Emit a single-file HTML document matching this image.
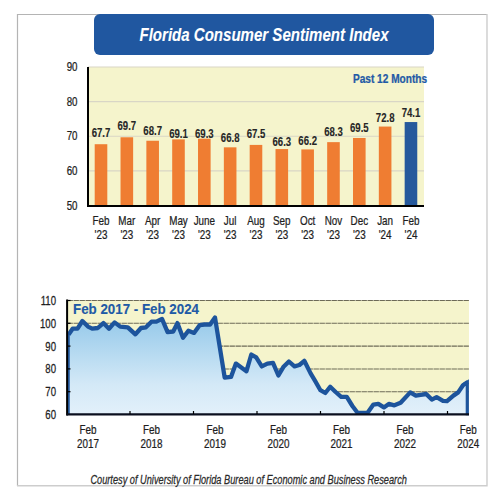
<!DOCTYPE html><html><head><meta charset="utf-8"><style>html,body{margin:0;padding:0;background:#fff;width:500px;height:500px;overflow:hidden}svg{display:block}text{font-family:"Liberation Sans",sans-serif}</style></head><body>
<svg width="500" height="500" viewBox="0 0 500 500">
<defs><linearGradient id="gf" gradientUnits="userSpaceOnUse" x1="0" y1="310" x2="0" y2="414"><stop offset="0" stop-color="#8dc5e8"/><stop offset="0.72" stop-color="#d4e9f7"/><stop offset="1" stop-color="#e2f0fa"/></linearGradient></defs>
<path d="M17.5,486 V14.5 H487" fill="none" stroke="#b4b4b4" stroke-width="1.2"/>
<path d="M17,485.8 H487 V14" fill="none" stroke="#cdcdcd" stroke-width="1.4"/>
<rect x="94" y="14" width="340" height="41" rx="6" ry="6" fill="#2057a0"/>
<text transform="translate(264,41) scale(0.836,1)" font-size="18" font-weight="bold" font-style="italic" fill="#fff" text-anchor="middle" stroke="#fff" stroke-width="0.1" >Florida Consumer Sentiment Index</text>
<rect x="88" y="67" width="336" height="138.5" fill="#f5f4cc"/>
<line x1="88" y1="67.0" x2="424" y2="67.0" stroke="#d9d6c6" stroke-width="1.1"/>
<line x1="88" y1="101.625" x2="424" y2="101.625" stroke="#d9d6c6" stroke-width="1.1"/>
<line x1="88" y1="136.25" x2="424" y2="136.25" stroke="#d9d6c6" stroke-width="1.1"/>
<line x1="88" y1="170.875" x2="424" y2="170.875" stroke="#d9d6c6" stroke-width="1.1"/>
<text transform="translate(77.5,71.2) scale(0.81,1)" font-size="12" font-weight="normal" font-style="normal" fill="#1e1e1e" text-anchor="end" stroke="#1e1e1e" stroke-width="0.25" >90</text>
<text transform="translate(77.5,105.825) scale(0.81,1)" font-size="12" font-weight="normal" font-style="normal" fill="#1e1e1e" text-anchor="end" stroke="#1e1e1e" stroke-width="0.25" >80</text>
<text transform="translate(77.5,140.45) scale(0.81,1)" font-size="12" font-weight="normal" font-style="normal" fill="#1e1e1e" text-anchor="end" stroke="#1e1e1e" stroke-width="0.25" >70</text>
<text transform="translate(77.5,175.075) scale(0.81,1)" font-size="12" font-weight="normal" font-style="normal" fill="#1e1e1e" text-anchor="end" stroke="#1e1e1e" stroke-width="0.25" >60</text>
<text transform="translate(77.5,209.7) scale(0.81,1)" font-size="12" font-weight="normal" font-style="normal" fill="#1e1e1e" text-anchor="end" stroke="#1e1e1e" stroke-width="0.25" >50</text>
<rect x="94.70" y="144.21" width="12.6" height="61.29" fill="#ef7d32"/>
<text transform="translate(101.0,137) scale(0.8,1)" font-size="12" font-weight="bold" font-style="normal" fill="#262626" text-anchor="middle" stroke="#262626" stroke-width="0.12" >67.7</text>
<text transform="translate(101.0,224.6) scale(0.77,1)" font-size="12.8" font-weight="normal" font-style="normal" fill="#1e1e1e" text-anchor="middle" stroke="#1e1e1e" stroke-width="0.25" >Feb</text>
<text transform="translate(101.0,238.7) scale(0.77,1)" font-size="12.8" font-weight="normal" font-style="normal" fill="#1e1e1e" text-anchor="middle" stroke="#1e1e1e" stroke-width="0.25" >'23</text>
<rect x="120.53" y="137.29" width="12.6" height="68.21" fill="#ef7d32"/>
<text transform="translate(126.83,130.4) scale(0.8,1)" font-size="12" font-weight="bold" font-style="normal" fill="#262626" text-anchor="middle" stroke="#262626" stroke-width="0.12" >69.7</text>
<text transform="translate(126.83,224.6) scale(0.77,1)" font-size="12.8" font-weight="normal" font-style="normal" fill="#1e1e1e" text-anchor="middle" stroke="#1e1e1e" stroke-width="0.25" >Mar</text>
<text transform="translate(126.83,238.7) scale(0.77,1)" font-size="12.8" font-weight="normal" font-style="normal" fill="#1e1e1e" text-anchor="middle" stroke="#1e1e1e" stroke-width="0.25" >'23</text>
<rect x="146.36" y="140.75" width="12.6" height="64.75" fill="#ef7d32"/>
<text transform="translate(152.66,135.2) scale(0.8,1)" font-size="12" font-weight="bold" font-style="normal" fill="#262626" text-anchor="middle" stroke="#262626" stroke-width="0.12" >68.7</text>
<text transform="translate(152.66,224.6) scale(0.77,1)" font-size="12.8" font-weight="normal" font-style="normal" fill="#1e1e1e" text-anchor="middle" stroke="#1e1e1e" stroke-width="0.25" >Apr</text>
<text transform="translate(152.66,238.7) scale(0.77,1)" font-size="12.8" font-weight="normal" font-style="normal" fill="#1e1e1e" text-anchor="middle" stroke="#1e1e1e" stroke-width="0.25" >'23</text>
<rect x="172.19" y="139.37" width="12.6" height="66.13" fill="#ef7d32"/>
<text transform="translate(178.49,138) scale(0.8,1)" font-size="12" font-weight="bold" font-style="normal" fill="#262626" text-anchor="middle" stroke="#262626" stroke-width="0.12" >69.1</text>
<text transform="translate(178.49,224.6) scale(0.77,1)" font-size="12.8" font-weight="normal" font-style="normal" fill="#1e1e1e" text-anchor="middle" stroke="#1e1e1e" stroke-width="0.25" >May</text>
<text transform="translate(178.49,238.7) scale(0.77,1)" font-size="12.8" font-weight="normal" font-style="normal" fill="#1e1e1e" text-anchor="middle" stroke="#1e1e1e" stroke-width="0.25" >'23</text>
<rect x="198.02" y="138.67" width="12.6" height="66.83" fill="#ef7d32"/>
<text transform="translate(204.32,137.8) scale(0.8,1)" font-size="12" font-weight="bold" font-style="normal" fill="#262626" text-anchor="middle" stroke="#262626" stroke-width="0.12" >69.3</text>
<text transform="translate(204.32,224.6) scale(0.77,1)" font-size="12.8" font-weight="normal" font-style="normal" fill="#1e1e1e" text-anchor="middle" stroke="#1e1e1e" stroke-width="0.25" >June</text>
<text transform="translate(204.32,238.7) scale(0.77,1)" font-size="12.8" font-weight="normal" font-style="normal" fill="#1e1e1e" text-anchor="middle" stroke="#1e1e1e" stroke-width="0.25" >'23</text>
<rect x="223.85" y="147.33" width="12.6" height="58.17" fill="#ef7d32"/>
<text transform="translate(230.15,141.5) scale(0.8,1)" font-size="12" font-weight="bold" font-style="normal" fill="#262626" text-anchor="middle" stroke="#262626" stroke-width="0.12" >66.8</text>
<text transform="translate(230.15,224.6) scale(0.77,1)" font-size="12.8" font-weight="normal" font-style="normal" fill="#1e1e1e" text-anchor="middle" stroke="#1e1e1e" stroke-width="0.25" >Jul</text>
<text transform="translate(230.15,238.7) scale(0.77,1)" font-size="12.8" font-weight="normal" font-style="normal" fill="#1e1e1e" text-anchor="middle" stroke="#1e1e1e" stroke-width="0.25" >'23</text>
<rect x="249.68" y="144.91" width="12.6" height="60.59" fill="#ef7d32"/>
<text transform="translate(255.98,138) scale(0.8,1)" font-size="12" font-weight="bold" font-style="normal" fill="#262626" text-anchor="middle" stroke="#262626" stroke-width="0.12" >67.5</text>
<text transform="translate(255.98,224.6) scale(0.77,1)" font-size="12.8" font-weight="normal" font-style="normal" fill="#1e1e1e" text-anchor="middle" stroke="#1e1e1e" stroke-width="0.25" >Aug</text>
<text transform="translate(255.98,238.7) scale(0.77,1)" font-size="12.8" font-weight="normal" font-style="normal" fill="#1e1e1e" text-anchor="middle" stroke="#1e1e1e" stroke-width="0.25" >'23</text>
<rect x="275.51" y="149.06" width="12.6" height="56.44" fill="#ef7d32"/>
<text transform="translate(281.81,145.5) scale(0.8,1)" font-size="12" font-weight="bold" font-style="normal" fill="#262626" text-anchor="middle" stroke="#262626" stroke-width="0.12" >66.3</text>
<text transform="translate(281.81,224.6) scale(0.77,1)" font-size="12.8" font-weight="normal" font-style="normal" fill="#1e1e1e" text-anchor="middle" stroke="#1e1e1e" stroke-width="0.25" >Sep</text>
<text transform="translate(281.81,238.7) scale(0.77,1)" font-size="12.8" font-weight="normal" font-style="normal" fill="#1e1e1e" text-anchor="middle" stroke="#1e1e1e" stroke-width="0.25" >'23</text>
<rect x="301.34" y="149.41" width="12.6" height="56.09" fill="#ef7d32"/>
<text transform="translate(307.64,144.8) scale(0.8,1)" font-size="12" font-weight="bold" font-style="normal" fill="#262626" text-anchor="middle" stroke="#262626" stroke-width="0.12" >66.2</text>
<text transform="translate(307.64,224.6) scale(0.77,1)" font-size="12.8" font-weight="normal" font-style="normal" fill="#1e1e1e" text-anchor="middle" stroke="#1e1e1e" stroke-width="0.25" >Oct</text>
<text transform="translate(307.64,238.7) scale(0.77,1)" font-size="12.8" font-weight="normal" font-style="normal" fill="#1e1e1e" text-anchor="middle" stroke="#1e1e1e" stroke-width="0.25" >'23</text>
<rect x="327.17" y="142.14" width="12.6" height="63.36" fill="#ef7d32"/>
<text transform="translate(333.47,136) scale(0.8,1)" font-size="12" font-weight="bold" font-style="normal" fill="#262626" text-anchor="middle" stroke="#262626" stroke-width="0.12" >68.3</text>
<text transform="translate(333.47,224.6) scale(0.77,1)" font-size="12.8" font-weight="normal" font-style="normal" fill="#1e1e1e" text-anchor="middle" stroke="#1e1e1e" stroke-width="0.25" >Nov</text>
<text transform="translate(333.47,238.7) scale(0.77,1)" font-size="12.8" font-weight="normal" font-style="normal" fill="#1e1e1e" text-anchor="middle" stroke="#1e1e1e" stroke-width="0.25" >'23</text>
<rect x="353.00" y="137.98" width="12.6" height="67.52" fill="#ef7d32"/>
<text transform="translate(359.3,132) scale(0.8,1)" font-size="12" font-weight="bold" font-style="normal" fill="#262626" text-anchor="middle" stroke="#262626" stroke-width="0.12" >69.5</text>
<text transform="translate(359.3,224.6) scale(0.77,1)" font-size="12.8" font-weight="normal" font-style="normal" fill="#1e1e1e" text-anchor="middle" stroke="#1e1e1e" stroke-width="0.25" >Dec</text>
<text transform="translate(359.3,238.7) scale(0.77,1)" font-size="12.8" font-weight="normal" font-style="normal" fill="#1e1e1e" text-anchor="middle" stroke="#1e1e1e" stroke-width="0.25" >'23</text>
<rect x="378.83" y="126.56" width="12.6" height="78.94" fill="#ef7d32"/>
<text transform="translate(385.13,121.5) scale(0.8,1)" font-size="12" font-weight="bold" font-style="normal" fill="#262626" text-anchor="middle" stroke="#262626" stroke-width="0.12" >72.8</text>
<text transform="translate(385.13,224.6) scale(0.77,1)" font-size="12.8" font-weight="normal" font-style="normal" fill="#1e1e1e" text-anchor="middle" stroke="#1e1e1e" stroke-width="0.25" >Jan</text>
<text transform="translate(385.13,238.7) scale(0.77,1)" font-size="12.8" font-weight="normal" font-style="normal" fill="#1e1e1e" text-anchor="middle" stroke="#1e1e1e" stroke-width="0.25" >'24</text>
<rect x="404.66" y="122.05" width="12.6" height="83.45" fill="#26599c"/>
<text transform="translate(410.96,117.1) scale(0.8,1)" font-size="12" font-weight="bold" font-style="normal" fill="#262626" text-anchor="middle" stroke="#262626" stroke-width="0.12" >74.1</text>
<text transform="translate(410.96,224.6) scale(0.77,1)" font-size="12.8" font-weight="normal" font-style="normal" fill="#1e1e1e" text-anchor="middle" stroke="#1e1e1e" stroke-width="0.25" >Feb</text>
<text transform="translate(410.96,238.7) scale(0.77,1)" font-size="12.8" font-weight="normal" font-style="normal" fill="#1e1e1e" text-anchor="middle" stroke="#1e1e1e" stroke-width="0.25" >'24</text>
<line x1="88" y1="67" x2="88" y2="207" stroke="#000" stroke-width="2"/>
<line x1="87" y1="206" x2="424" y2="206" stroke="#000" stroke-width="2"/>
<text transform="translate(390,83) scale(0.81,1)" font-size="12.5" font-weight="bold" font-style="normal" fill="#1f5aa6" text-anchor="middle" stroke="#1f5aa6" stroke-width="0.25" >Past 12 Months</text>
<rect x="67.5" y="300.5" width="401.5" height="114.0" fill="#f5f4cc"/>
<line x1="67.5" y1="300.50" x2="469" y2="300.50" stroke="#6d6a57" stroke-width="1.1" stroke-dasharray="5.4,0.6"/>
<line x1="67.5" y1="323.30" x2="469" y2="323.30" stroke="#6d6a57" stroke-width="1.1" stroke-dasharray="5.4,0.6"/>
<line x1="67.5" y1="346.10" x2="469" y2="346.10" stroke="#6d6a57" stroke-width="1.1" stroke-dasharray="5.4,0.6"/>
<line x1="67.5" y1="369.00" x2="469" y2="369.00" stroke="#6d6a57" stroke-width="1.1" stroke-dasharray="5.4,0.6"/>
<line x1="67.5" y1="391.80" x2="469" y2="391.80" stroke="#6d6a57" stroke-width="1.1" stroke-dasharray="5.4,0.6"/>
<polygon points="68,414.5 68.6,334.6 72.6,328.7 77.5,328.7 82.4,321 88,326.6 92.2,328.7 97.8,328 103.4,323.1 109,328.7 114.6,322.4 120.2,326.6 127.8,327.3 135.4,334.3 141,328 145.9,327.3 151.5,321.7 156.4,321.7 162,318.9 167.6,332.2 173.2,331.5 177.4,323.1 183,337.8 188.4,330.8 194,332.9 199.6,325.2 204.5,324.5 210.1,324.5 215,317.5 224.7,377.6 231,376.9 235.9,363.6 246.4,371.3 251.3,354.5 256.2,357.3 261.8,366.4 267.4,363.6 273,362.9 278.4,375.5 283.3,367.1 288.9,361.5 294.5,366.4 299.4,365 304.3,360.8 310.6,373.4 314.8,380.4 320.4,390.2 325.3,393 330.2,386.7 335.6,392 341.2,396.9 346.8,396.9 352.4,406 357.5,412.8 367.6,412.8 373.4,404.6 378.3,403.9 383.9,407.4 388.8,403.9 394.4,405.3 400.6,402.8 410.2,392.4 415.8,395.6 420.6,394.8 426.2,394 431.8,399.6 436.6,397.2 443,400.9 447,401.2 453.4,395.6 458.2,392.4 463,385.2 467.8,382 467.8,414.5" fill="url(#gf)"/>
<polyline points="68.6,334.6 72.6,328.7 77.5,328.7 82.4,321 88,326.6 92.2,328.7 97.8,328 103.4,323.1 109,328.7 114.6,322.4 120.2,326.6 127.8,327.3 135.4,334.3 141,328 145.9,327.3 151.5,321.7 156.4,321.7 162,318.9 167.6,332.2 173.2,331.5 177.4,323.1 183,337.8 188.4,330.8 194,332.9 199.6,325.2 204.5,324.5 210.1,324.5 215,317.5 224.7,377.6 231,376.9 235.9,363.6 246.4,371.3 251.3,354.5 256.2,357.3 261.8,366.4 267.4,363.6 273,362.9 278.4,375.5 283.3,367.1 288.9,361.5 294.5,366.4 299.4,365 304.3,360.8 310.6,373.4 314.8,380.4 320.4,390.2 325.3,393 330.2,386.7 335.6,392 341.2,396.9 346.8,396.9 352.4,406 357.5,412.8 367.6,412.8 373.4,404.6 378.3,403.9 383.9,407.4 388.8,403.9 394.4,405.3 400.6,402.8 410.2,392.4 415.8,395.6 420.6,394.8 426.2,394 431.8,399.6 436.6,397.2 443,400.9 447,401.2 453.4,395.6 458.2,392.4 463,385.2 467.8,382" fill="none" stroke="#1d549c" stroke-width="4.3" stroke-linejoin="round" stroke-linecap="butt"/>
<path d="M463,384.8 L467.3,382.2 L467.3,415.3" fill="none" stroke="#1d549c" stroke-width="3.2" stroke-linejoin="miter"/>
<line x1="68.9" y1="333" x2="68.9" y2="414" stroke="#1d549c" stroke-width="1.7"/>
<line x1="67.1" y1="299.5" x2="67.1" y2="415.5" stroke="#000" stroke-width="2"/>
<line x1="66.5" y1="414.3" x2="469" y2="414.3" stroke="#0a0f1e" stroke-width="2.2"/>
<line x1="67" y1="300.50" x2="70.5" y2="300.50" stroke="#000" stroke-width="1.2"/>
<line x1="67" y1="323.30" x2="70.5" y2="323.30" stroke="#000" stroke-width="1.2"/>
<line x1="67" y1="346.10" x2="70.5" y2="346.10" stroke="#000" stroke-width="1.2"/>
<line x1="67" y1="368.90" x2="70.5" y2="368.90" stroke="#000" stroke-width="1.2"/>
<line x1="67" y1="391.70" x2="70.5" y2="391.70" stroke="#000" stroke-width="1.2"/>
<line x1="130" y1="411" x2="130" y2="414" stroke="#000" stroke-width="1.2"/>
<line x1="193.5" y1="411" x2="193.5" y2="414" stroke="#000" stroke-width="1.2"/>
<line x1="257" y1="411" x2="257" y2="414" stroke="#000" stroke-width="1.2"/>
<line x1="320.5" y1="411" x2="320.5" y2="414" stroke="#000" stroke-width="1.2"/>
<line x1="384" y1="411" x2="384" y2="414" stroke="#000" stroke-width="1.2"/>
<line x1="447.5" y1="411" x2="447.5" y2="414" stroke="#000" stroke-width="1.2"/>
<text transform="translate(56,304.9) scale(0.8,1)" font-size="12" font-weight="normal" font-style="normal" fill="#1e1e1e" text-anchor="end" stroke="#1e1e1e" stroke-width="0.25" >110</text>
<text transform="translate(56,327.7) scale(0.8,1)" font-size="12" font-weight="normal" font-style="normal" fill="#1e1e1e" text-anchor="end" stroke="#1e1e1e" stroke-width="0.25" >100</text>
<text transform="translate(56,350.5) scale(0.8,1)" font-size="12" font-weight="normal" font-style="normal" fill="#1e1e1e" text-anchor="end" stroke="#1e1e1e" stroke-width="0.25" >90</text>
<text transform="translate(56,373.29999999999995) scale(0.8,1)" font-size="12" font-weight="normal" font-style="normal" fill="#1e1e1e" text-anchor="end" stroke="#1e1e1e" stroke-width="0.25" >80</text>
<text transform="translate(56,396.09999999999997) scale(0.8,1)" font-size="12" font-weight="normal" font-style="normal" fill="#1e1e1e" text-anchor="end" stroke="#1e1e1e" stroke-width="0.25" >70</text>
<text transform="translate(56,418.9) scale(0.8,1)" font-size="12" font-weight="normal" font-style="normal" fill="#1e1e1e" text-anchor="end" stroke="#1e1e1e" stroke-width="0.25" >60</text>
<text transform="translate(88,434.1) scale(0.785,1)" font-size="12.6" font-weight="normal" font-style="normal" fill="#1e1e1e" text-anchor="middle" stroke="#1e1e1e" stroke-width="0.25" >Feb</text>
<text transform="translate(88,448.4) scale(0.785,1)" font-size="12.6" font-weight="normal" font-style="normal" fill="#1e1e1e" text-anchor="middle" stroke="#1e1e1e" stroke-width="0.25" >2017</text>
<text transform="translate(151.6,434.1) scale(0.785,1)" font-size="12.6" font-weight="normal" font-style="normal" fill="#1e1e1e" text-anchor="middle" stroke="#1e1e1e" stroke-width="0.25" >Feb</text>
<text transform="translate(151.6,448.4) scale(0.785,1)" font-size="12.6" font-weight="normal" font-style="normal" fill="#1e1e1e" text-anchor="middle" stroke="#1e1e1e" stroke-width="0.25" >2018</text>
<text transform="translate(215,434.1) scale(0.785,1)" font-size="12.6" font-weight="normal" font-style="normal" fill="#1e1e1e" text-anchor="middle" stroke="#1e1e1e" stroke-width="0.25" >Feb</text>
<text transform="translate(215,448.4) scale(0.785,1)" font-size="12.6" font-weight="normal" font-style="normal" fill="#1e1e1e" text-anchor="middle" stroke="#1e1e1e" stroke-width="0.25" >2019</text>
<text transform="translate(278.4,434.1) scale(0.785,1)" font-size="12.6" font-weight="normal" font-style="normal" fill="#1e1e1e" text-anchor="middle" stroke="#1e1e1e" stroke-width="0.25" >Feb</text>
<text transform="translate(278.4,448.4) scale(0.785,1)" font-size="12.6" font-weight="normal" font-style="normal" fill="#1e1e1e" text-anchor="middle" stroke="#1e1e1e" stroke-width="0.25" >2020</text>
<text transform="translate(341.5,434.1) scale(0.785,1)" font-size="12.6" font-weight="normal" font-style="normal" fill="#1e1e1e" text-anchor="middle" stroke="#1e1e1e" stroke-width="0.25" >Feb</text>
<text transform="translate(341.5,448.4) scale(0.785,1)" font-size="12.6" font-weight="normal" font-style="normal" fill="#1e1e1e" text-anchor="middle" stroke="#1e1e1e" stroke-width="0.25" >2021</text>
<text transform="translate(405,434.1) scale(0.785,1)" font-size="12.6" font-weight="normal" font-style="normal" fill="#1e1e1e" text-anchor="middle" stroke="#1e1e1e" stroke-width="0.25" >Feb</text>
<text transform="translate(405,448.4) scale(0.785,1)" font-size="12.6" font-weight="normal" font-style="normal" fill="#1e1e1e" text-anchor="middle" stroke="#1e1e1e" stroke-width="0.25" >2022</text>
<text transform="translate(468.3,434.1) scale(0.785,1)" font-size="12.6" font-weight="normal" font-style="normal" fill="#1e1e1e" text-anchor="middle" stroke="#1e1e1e" stroke-width="0.25" >Feb</text>
<text transform="translate(468.3,448.4) scale(0.785,1)" font-size="12.6" font-weight="normal" font-style="normal" fill="#1e1e1e" text-anchor="middle" stroke="#1e1e1e" stroke-width="0.25" >2024</text>
<text transform="translate(73,314) scale(0.861,1)" font-size="15.5" font-weight="bold" font-style="normal" fill="#1f5aa6" text-anchor="start" stroke="#1f5aa6" stroke-width="0.15" >Feb 2017 - Feb 2024</text>
<text transform="translate(90.4,483.6) scale(0.769,1)" font-size="12" font-weight="normal" font-style="italic" fill="#2a2a2a" text-anchor="start" stroke="#2a2a2a" stroke-width="0.25" >Courtesy of University of Florida Bureau of Economic and Business Research</text>
</svg></body></html>
